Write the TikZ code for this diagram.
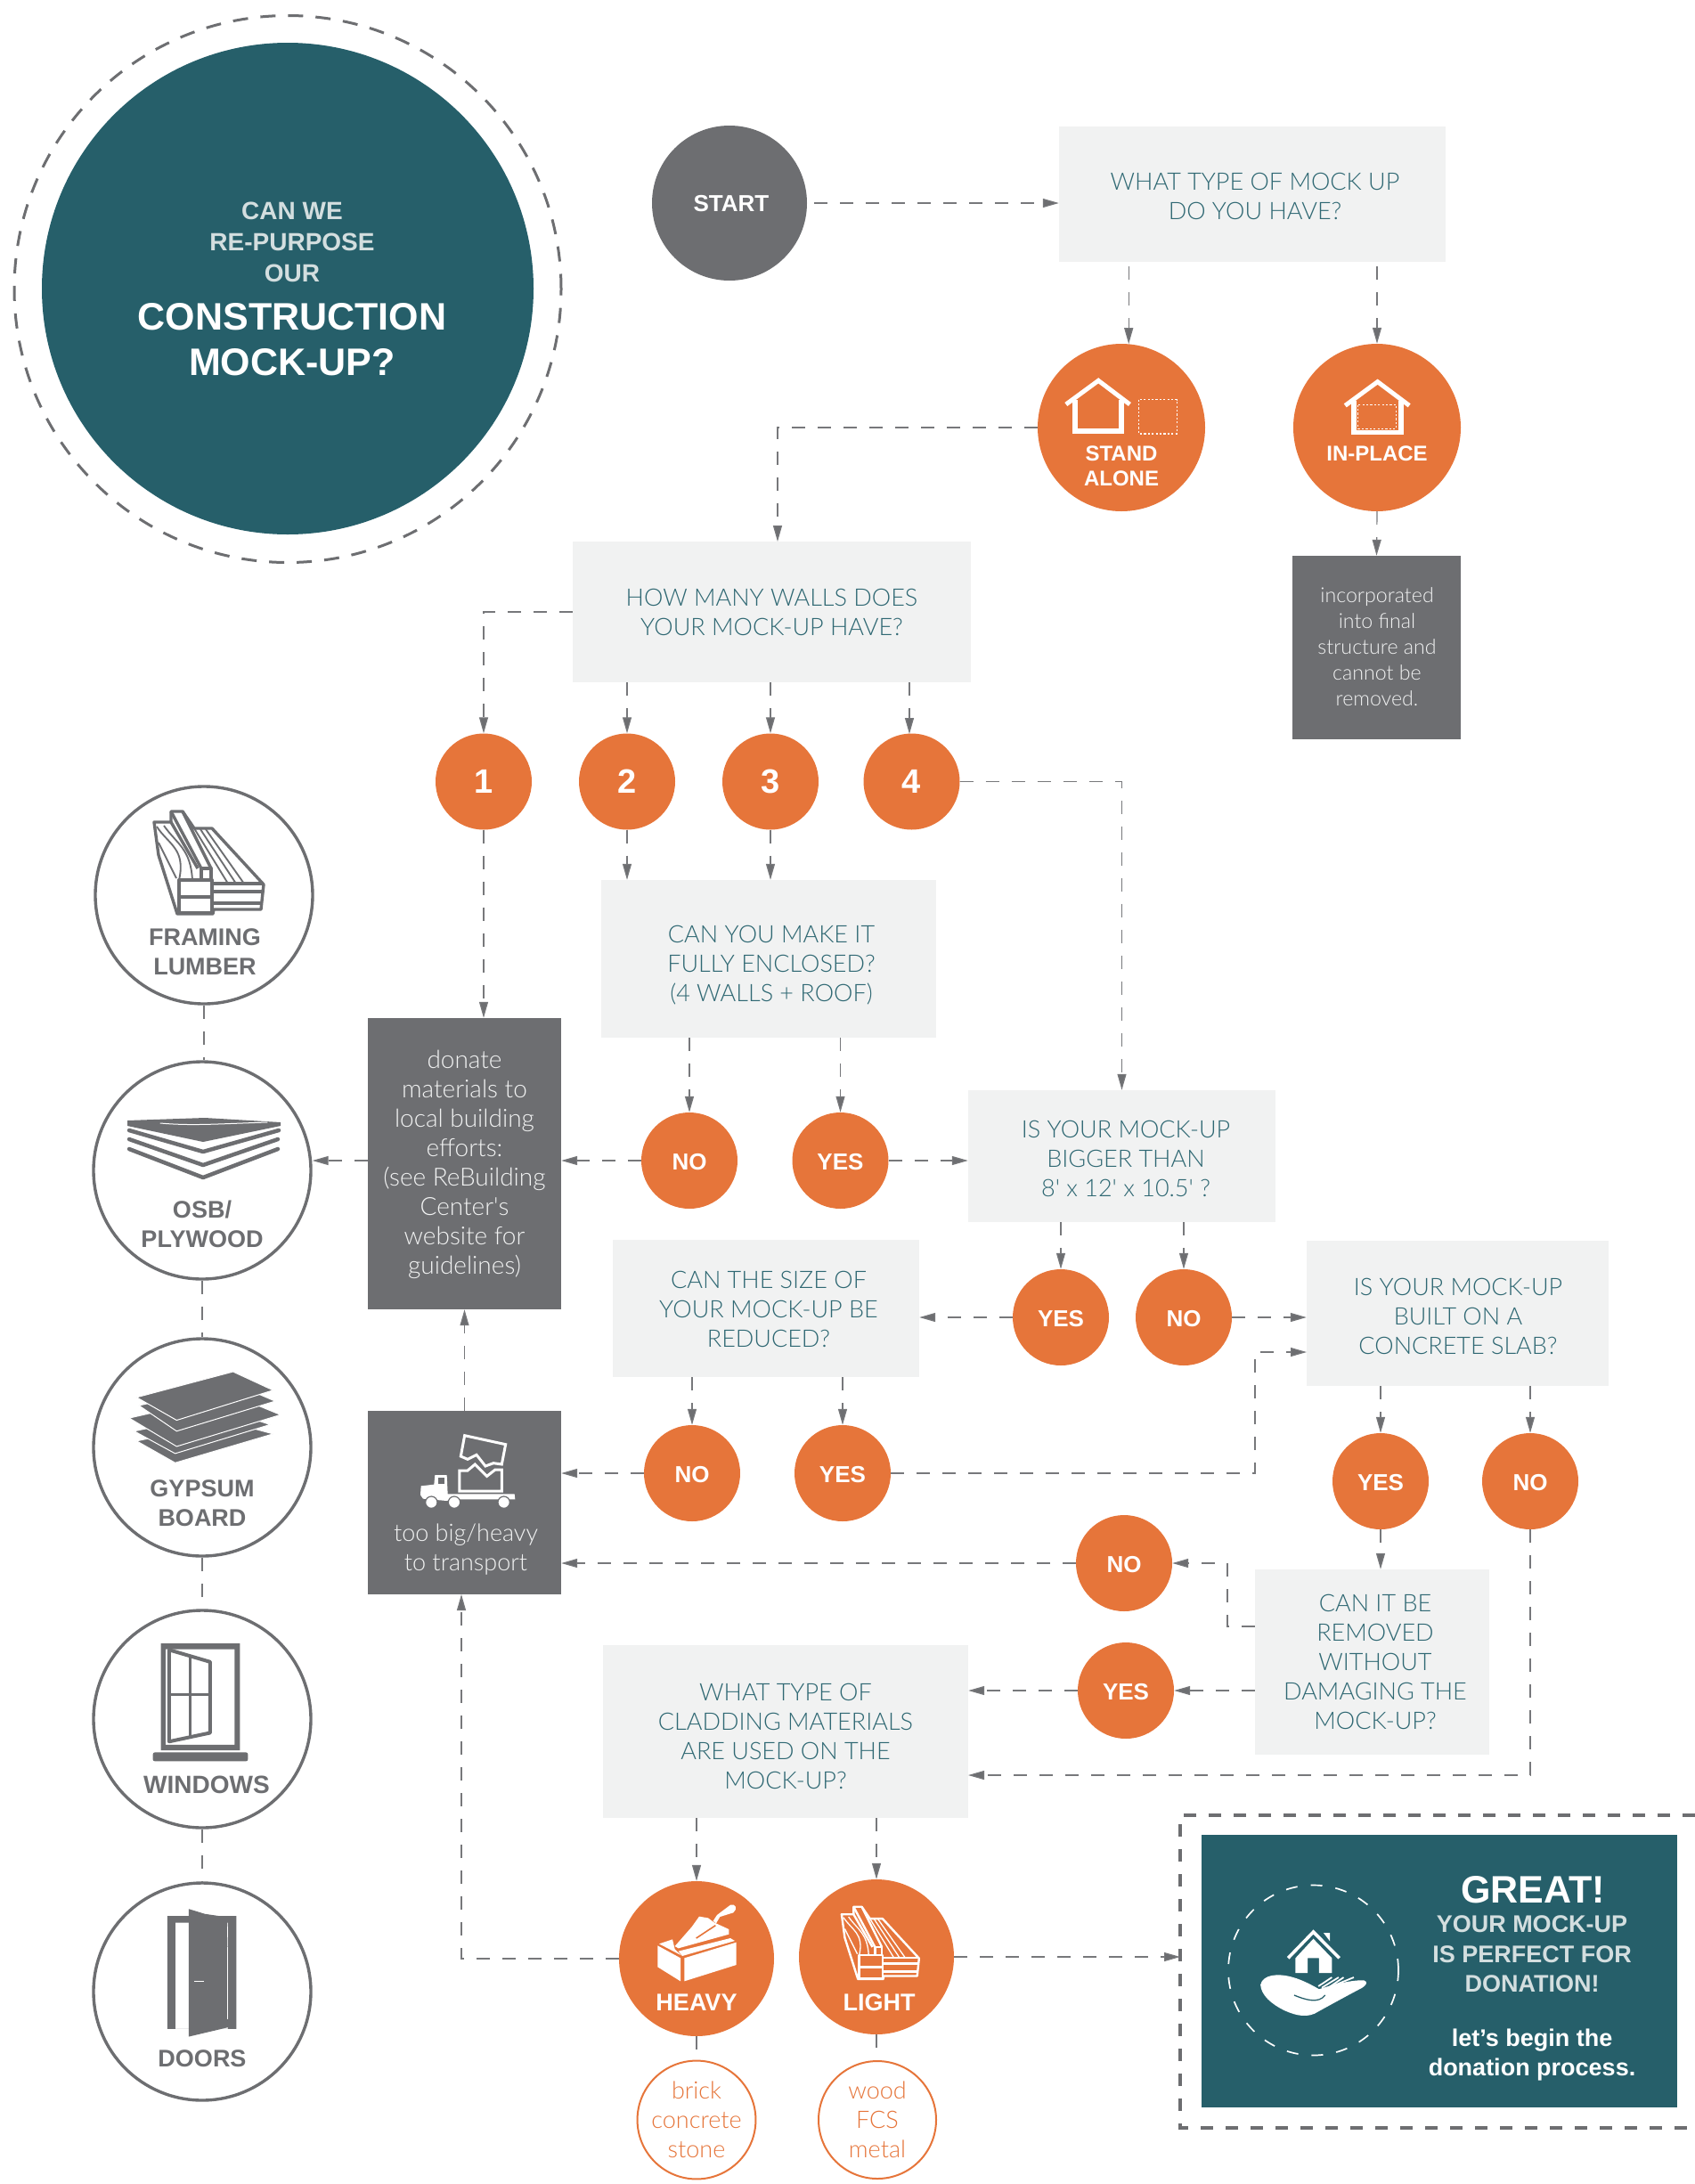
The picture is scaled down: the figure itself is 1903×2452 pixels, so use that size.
\documentclass[tikz,border=0pt]{standalone}
\usepackage{fontspec}
\setmainfont{Liberation Sans}
\newfontfamily\lightf{Lato Light}
\usetikzlibrary{arrows.meta,calc}
\definecolor{teal}{HTML}{265F6A}
\definecolor{qtext}{HTML}{2F6873}
\definecolor{orng}{HTML}{E6753A}
\definecolor{gry}{HTML}{6D6E71}
\definecolor{pale}{HTML}{F1F2F2}
\definecolor{linec}{HTML}{77787B}
\definecolor{softw}{HTML}{D3DEDF}
\newcommand{\lumbericon}[2]{%
 \begin{scope}[line join=round,draw=#1,line width=#2]
 \draw (-61,-45)--(-42,-45)--(-42,-57)--(-29,-57)--(-16,-38)--(4,-38)--(62,25)--(59,53)--(6,53)--(5,58)--(-35,58)--(-56,-8)--cycle;
 \draw (-33,20) rectangle (4,57);
 \draw (-33,39)--(4,39);
 \draw (-8,19)--(-8,7)--(3,7)--(3,19);
 \draw (-42,-57)--(-8,7);
 \draw (-29,-57)--(3,7);
 \draw (-42,-45)--(-12,7);
 \draw (4,24)--(61,24);
 \draw (5,33)--(60,33);
 \draw (5,46)--(60,46);
 \draw[line width=0.55*#2] (-16,-38)--(22,24);
 \draw[line width=0.55*#2] (-9,-37)--(31,24);
 \draw[line width=0.55*#2] (-3,-37)--(40,24);
 \draw[line width=0.55*#2] (-58,-40)..controls (-45,-20) and (-25,-15)..(-33,20);
 \draw[line width=0.55*#2] (-56,-22)--(-36,18);
 \draw[line width=0.55*#2] (-50,-41)..controls (-35,-20) and (-20,-15)..(-18,20);
 \end{scope}}
\tikzset{
 x=1pt,y=-1pt,
 conn/.style={draw=linec,line width=1.2pt,dash pattern=on 15pt off 14pt},
 arr/.style={conn,-{Triangle[length=18pt,width=10pt,fill=gry]}},
 qbox/.style={rectangle,fill=pale,inner sep=0pt},
 qtxt/.style={inner sep=0pt,align=center,text=qtext,font=\lightf\fontsize{27}{33}\selectfont},
 gbox/.style={rectangle,fill=gry,inner sep=0pt},
 gtxt/.style={inner sep=0pt,align=center,text=pale,font=\lightf\fontsize{28}{33}\selectfont},
 ocirc/.style={circle,fill=orng,inner sep=0pt,minimum size=108pt,text=white,text height=20.5pt,text depth=0pt,font=\bfseries\fontsize{26}{31}\selectfont},
 digitc/.style={ocirc,text height=25pt,font=\bfseries\fontsize{38}{40}\selectfont},
 bigo/.style={circle,fill=orng,inner sep=0pt,minimum size=188pt},
 hugeo/.style={circle,fill=orng,inner sep=0pt,minimum size=174pt},
 matc/.style={circle,draw=gry,line width=3.4pt,fill=white,inner sep=0pt,minimum size=244pt},
 matl/.style={inner sep=0pt,align=center,text=gry,font=\bfseries\fontsize{27}{33}\selectfont},
 wlab/.style={inner sep=0pt,align=center,text=white,font=\bfseries\fontsize{24}{28}\selectfont},
 ring/.style={circle,draw=orng,line width=2pt,fill=white,inner sep=0pt,minimum size=132pt,align=center,text=orng,font=\lightf\fontsize{27}{33}\selectfont},
 dotl/.style={draw=white,line width=1.3pt,dash pattern=on 2.2pt off 2.2pt},
}
\begin{document}
\begin{tikzpicture}
\useasboundingbox (0,0) rectangle (1903,2452);
% title
\draw[gry,line width=3pt,dash pattern=on 17pt off 14pt] (323,324.5) circle[radius=307pt];
\node[circle,fill=teal,inner sep=0pt,minimum size=552pt] (title) at (323,324) {};
\node[inner sep=0pt,align=center,text=softw,font=\bfseries\fontsize{28}{35}\selectfont] (titlea) at (328,271.5) {CAN WE\\RE-PURPOSE\\OUR};
\node[inner sep=0pt,align=center,text=white,font=\bfseries\fontsize{43}{51}\selectfont] (titleb) at (328,381) {CONSTRUCTION\\MOCK-UP?};
% start and first question
\node[circle,fill=gry,inner sep=0pt,minimum size=174pt] (start) at (819,228) {};
\node[inner sep=0pt,text=white,font=\bfseries\fontsize{26}{30}\selectfont] (starttxt) at (821,229) {START};
\node[qbox,minimum width=434pt,minimum height=152pt] (q1) at (1406,218) {};
\node[qtxt] (q1t) at (1409,220) {WHAT TYPE OF MOCK UP\\DO YOU HAVE?};
\node[bigo] (sa) at (1259,480) {};
\node[bigo] (ip) at (1546,480) {};
\node[wlab] (satxt) at (1259,523) {STAND\\ALONE};
\node[wlab] (iptxt) at (1546,509) {IN-PLACE};
\node[gbox,minimum width=189pt,minimum height=206pt] (incorp) at (1545.5,727) {};
\node[gtxt,font=\lightf\fontsize{23.2}{29}\selectfont] (incorpt) at (1546,726) {incorporated\\into final\\structure and\\cannot be\\removed.};
% icons: houses
\begin{scope}[shift={(1100,350)},x=0.3827pt,y=-0.3333pt,line join=miter]
 \draw[white,line width=5pt] (253,312)--(348,232)--(440,312);
 \draw[white,line width=5.5pt] (280,298)--(280,402)--(416,402)--(416,298);
 \draw[dotl] (467,296) rectangle (578,411);
 \draw[white,line width=5pt] (1072,316)--(1167,236)--(1260,316);
 \draw[white,line width=5.5pt] (1098,300)--(1098,407)--(1236,407)--(1236,300);
 \draw[dotl] (1110,314) rectangle (1222,394);
\end{scope}
% walls
\node[qbox,minimum width=447pt,minimum height=158pt] (q2) at (866.5,687) {};
\node[qtxt] (q2t) at (866.5,687) {HOW MANY WALLS DOES\\YOUR MOCK-UP HAVE?};
\node[digitc] (n1) at (543,877.5) {1};
\node[digitc] (n2) at (704,877.5) {2};
\node[digitc] (n3) at (865,877.5) {3};
\node[digitc] (n4) at (1023.5,877.5) {4};
\node[qbox,minimum width=376pt,minimum height=177pt] (q3) at (863,1076.5) {};
\node[qtxt] (q3t) at (866,1084) {CAN YOU MAKE IT\\FULLY ENCLOSED?\\(4 WALLS + ROOF)};
\node[ocirc] (no1) at (774,1303) {NO};
\node[ocirc] (yes1) at (943.5,1303) {YES};
\node[gbox,minimum width=217pt,minimum height=327pt] (donate) at (521.5,1306.5) {};
\node[gtxt] (donatet) at (521.5,1307) {donate\\materials to\\local building\\efforts:\\(see ReBuilding\\Center's\\website for\\guidelines)};
\node[qbox,minimum width=345pt,minimum height=148pt] (q4) at (1259.5,1298) {};
\node[qtxt] (q4t) at (1264,1301) {IS YOUR MOCK-UP\\BIGGER THAN\\8' x 12' x 10.5' ?};
\node[ocirc] (yes2) at (1191,1479) {YES};
\node[ocirc] (no2) at (1329,1479) {NO};
\node[qbox,minimum width=344pt,minimum height=154pt] (q5) at (860,1469) {};
\node[qtxt] (q5t) at (863,1470) {CAN THE SIZE OF\\YOUR MOCK-UP BE\\REDUCED?};
\node[qbox,minimum width=339pt,minimum height=163pt] (q6) at (1636.5,1474.5) {};
\node[qtxt] (q6t) at (1637,1478) {IS YOUR MOCK-UP\\BUILT ON A\\CONCRETE SLAB?};
\node[ocirc] (no3) at (777,1654) {NO};
\node[ocirc] (yes3) at (946,1654) {YES};
\node[ocirc] (yes4) at (1550,1663) {YES};
\node[ocirc] (no4) at (1718,1663) {NO};
\node[gbox,minimum width=217pt,minimum height=206pt] (big) at (521.5,1687) {};
\node[gtxt,font=\lightf\fontsize{27}{33}\selectfont] (bigtxt) at (523,1740) {too big/heavy\\to transport};
\node[ocirc] (no5) at (1262,1755) {NO};
\node[ocirc] (yes5) at (1264,1898) {YES};
\node[qbox,minimum width=263pt,minimum height=208pt] (q7) at (1540.5,1866) {};
\node[qtxt] (q7t) at (1544,1866) {CAN IT BE\\REMOVED\\WITHOUT\\DAMAGING THE\\MOCK-UP?};
\node[qbox,minimum width=410pt,minimum height=194pt] (q8) at (882,1944) {};
\node[qtxt] (q8t) at (882,1949) {WHAT TYPE OF\\CLADDING MATERIALS\\ARE USED ON THE\\MOCK-UP?};
\node[hugeo] (heavy) at (782,2199) {};
\node[hugeo] (light) at (984,2197) {};
\node[wlab,font=\bfseries\fontsize{27}{28}\selectfont] (heavytxt) at (782,2248) {HEAVY};
\node[wlab,font=\bfseries\fontsize{27}{28}\selectfont] (lighttxt) at (987,2248) {LIGHT};
\node[ring] (brick) at (782,2380) {brick\\concrete\\stone};
\node[ring] (wood) at (985,2380) {wood\\FCS\\metal};
% truck icon
\begin{scope}[shift={(400,1570)},x=0.3333pt,y=-0.3333pt,line join=miter]
 \draw[white,line width=3pt] (365,125)--(503,155)--(490,222)--(462,218)--(435,228)--(405,190)--(375,205)--(352,195)--cycle;
 \draw[white,line width=3pt] (348,243)--(375,243)--(400,222)--(440,262)--(468,240)--(490,240)--(490,312)--(348,312)--cycle;
 \fill[white] (218,295)--(262,290)--(265,258)--(305,258)--(308,322)--(533,322)--(535,340)--(320,340)--(305,345)--(225,338)--(216,325)--cycle;
 \fill[gry] (275,268) rectangle (298,288);
 \fill[white,draw=gry,line width=1.2pt] (253,350) circle[radius=20];
 \fill[white,draw=gry,line width=1.2pt] (330,350) circle[radius=20];
 \fill[white,draw=gry,line width=1.2pt] (497,350) circle[radius=20];
\end{scope}
% heavy icon
\begin{scope}[shift={(680,2090)},x=0.3333pt,y=-0.3333pt]
 \fill[white] (175,283)--(252,325)--(252,403)--(175,355)--cycle;
 \fill[white] (265,325)--(440,272)--(440,348)--(265,403)--cycle;
 \fill[white] (180,277)--(225,262)--(233,295)--(255,316)--cycle;
 \fill[white] (245,302)--(420,258)--(435,267)--(258,318)--cycle;
 \fill[white] (315,185)--(345,190)--(365,205)--(415,228)--(415,245)--(245,292)--(233,285)--(290,220)--cycle;
 \fill[white] (362,200)--(375,180)--(420,146)..controls (438,140) and (445,160)..(430,172)--(385,186)--(372,208)--cycle;
 \draw[orng,line width=1.6pt] (305,258)--(370,215);
\end{scope}
% light icon
\begin{scope}[shift={(988,2181)},scale=0.707]
 \lumbericon{white}{2.4pt}
\end{scope}
% materials
\node[matc] (framing) at (229,1005) {};
\node[matc] (osb) at (227,1314) {};
\node[matc] (gypsum) at (227,1625) {};
\node[matc] (windows) at (227,1930) {};
\node[matc] (doors) at (227,2236) {};
\node[matl] (framingtxt) at (230,1069) {FRAMING\\LUMBER};
\node[matl] (osbtxt) at (227,1374.5) {OSB/\\PLYWOOD};
\node[matl] (gypsumtxt) at (227,1688) {GYPSUM\\BOARD};
\node[matl,font=\bfseries\fontsize{28}{33}\selectfont] (windowstxt) at (232,2004) {WINDOWS};
\node[matl] (doorstxt) at (227,2311) {DOORS};
\begin{scope}[shift={(234,968)}]
 \lumbericon{gry}{3.4pt}
\end{scope}
% osb icon
\begin{scope}[line join=round,line cap=round]
 \draw[gry,line width=4.5pt] (145,1290)--(228,1322)--(312,1290);
 \draw[gry,line width=4.5pt] (145,1279)--(228,1308)--(312,1279);
 \draw[gry,line width=4.5pt] (145,1269)--(228,1293)--(313,1269);
 \fill[gry] (143,1258)--(230,1255)--(315,1260)--(315,1264)--(228,1282)--(143,1264)--cycle;
 \draw[white,line width=1pt] (180,1261)..controls (215,1264) and (240,1262)..(300,1260);
\end{scope}
% gypsum icon
\begin{scope}[shift={(90,1480)},x=0.3333pt,y=-0.6124pt,line join=round]
 \filldraw[fill=gry,draw=white,line width=1pt] (190,225)--(500,190)--(650,212)--(320,265)--cycle;
 \filldraw[fill=gry,draw=white,line width=1pt] (182,207)--(500,170)--(640,195)--(320,248)--cycle;
 \filldraw[fill=gry,draw=white,line width=1pt] (165,183)--(510,140)--(675,177)--(325,235)--cycle;
 \filldraw[fill=gry,draw=white,line width=1pt] (198,160)--(520,120)--(657,152)--(325,207)--cycle;
 \filldraw[fill=gry,draw=white,line width=1pt] (190,145)--(515,98)--(650,132)--(325,187)--cycle;
 % windows
 \fill[gry,even odd rule] (272,596) rectangle (538,792) (288,607) rectangle (520,782);
 \fill[gry,rounded corners=2pt] (245,796) rectangle (565,812);
 \draw[gry,line width=4pt] (300,608)--(438,630)--(438,760)--(300,776)--cycle;
 \draw[gry,line width=3.6pt] (304,690)--(436,690);
 \draw[gry,line width=3.6pt] (370,618)--(370,768);
 % door
 \fill[gry,even odd rule] (294,1096)--(526,1096)--(526,1303)--(294,1303)--cycle (321,1108)--(498,1108)--(498,1303)--(321,1303)--cycle;
 \fill[gry] (366,1083)--(420,1092)--(495,1098)--(498,1300)--(366,1317)--cycle;
 \draw[white,line width=1.2pt] (385,1216)--(418,1216);
 \draw[white,line width=1pt] (497,1115)--(497,1135) (497,1152)--(497,1285);
\end{scope}
% great
\node[rectangle,fill=teal,inner sep=0pt,minimum width=534pt,minimum height=306pt] (great) at (1616,2213) {};
\coordinate (dleft) at (1325,2197);
\draw[gry,line width=3.4pt,dash pattern=on 14pt off 14pt] (1903,2038)--(1325,2038)--(1325,2389)--(1903,2389);
\draw[white,line width=1.7pt,dash pattern=on 13pt off 15pt] (1474.5,2212) circle[radius=95.5pt];
\node[inner sep=0pt,text=white,font=\bfseries\fontsize{43}{48}\selectfont] (greatt) at (1721,2122) {GREAT!};
\node[inner sep=0pt,align=center,text=softw,font=\bfseries\fontsize{27}{33.5}\selectfont] (greatm) at (1720,2194) {YOUR MOCK-UP\\IS PERFECT FOR\\DONATION!};
\node[inner sep=0pt,align=center,text=white,font=\bfseries\fontsize{27}{33}\selectfont] (greatb) at (1720,2307) {let’s begin the\\donation process.};
\begin{scope}[shift={(1310,2020)},x=0.3782pt,y=-0.3333pt,line join=miter]
 \draw[white,line width=3.6pt] (360,535)--(435,447)--(512,535);
 \fill[white] (465,450)--(484,450)--(484,478)--cycle;
 \fill[white] (382,535)--(435,470)--(490,535)--(490,585)--(452,585)--(452,535)--(418,535)--(418,585)--(382,585)--cycle;
 \fill[white] (278,625)..controls (285,590) and (330,585)..(375,600)..controls (400,608) and (430,625)..(452,640)..controls (490,625) and (550,608)..(585,610)..controls (600,615) and (590,628)..(580,635)..controls (530,665) and (490,690)..(450,715)..controls (420,738) and (385,730)..(350,712)..controls (310,690) and (280,660)..(278,625)--cycle;
 \draw[teal,line width=1.3pt] (378,660)..controls (410,675) and (450,690)..(470,660);
 \draw[white,line width=1.8pt] (450,630)--(490,600);
 \draw[white,line width=1.8pt] (460,635)--(510,600);
 \draw[white,line width=1.8pt] (475,638)--(525,600);
 \draw[white,line width=1.8pt] (490,630)--(555,600);
\end{scope}
% connectors
\draw[arr,shorten <=8pt] (start.east) -- (start.east -| q1.west);
\draw[arr,shorten <=5pt] (q1.south -| sa.85) -- (sa.85);
\draw[arr,shorten <=5pt] (q1.south -| ip.north) -- (ip.north);
\draw[arr] (ip.south) -- (incorp.north);
\coordinate (q2in) at (873,608);
\draw[arr] (sa.west) -| (q2in);
\draw[arr] (q2.west) -| (n1.north);
\draw[arr] (q2.south -| n2.north) -- (n2.north);
\draw[arr] (q2.south -| n3.north) -- (n3.north);
\coordinate (n4in) at (1021,824);
\draw[arr] (q2.south -| n4in) -- (n4in);
\draw[arr] (n1.south) -- (n1.south |- donate.north);
\draw[arr] (n2.south) -- (n2.south |- q3.north);
\draw[arr] (n3.south) -- (n3.south |- q3.north);
\draw[arr] (n4.east) -| (q4.north);
\draw[arr] (q3.south -| no1.north) -- (no1.north);
\draw[arr] (q3.south -| yes1.north) -- (yes1.north);
\draw[arr] (no1.west) -- (no1.west -| donate.east);
\draw[arr] (no1.west -| donate.west) -- (no1.west -| osb.east);
\draw[arr] (yes1.east) -- (yes1.east -| q4.west);
\draw[arr] (q4.south -| yes2.north) -- (yes2.north);
\draw[arr] (q4.south -| no2.north) -- (no2.north);
\draw[arr] (yes2.west) -- (yes2.west -| q5.east);
\draw[arr] (no2.east) -- (no2.east -| q6.west);
\draw[arr] (q5.south -| no3.north) -- (no3.north);
\draw[arr] (q5.south -| yes3.north) -- (yes3.north);
\draw[arr] (no3.west) -- (no3.west -| big.east);
\coordinate (q6low) at (1467,1518);
\coordinate (q6turn) at (1409,1654);
\draw[arr] (yes3.east) -- (q6turn) |- (q6low);
\draw[arr] (q6.south -| yes4.north) -- (yes4.north);
\draw[arr] (q6.south -| no4.north) -- (no4.north);
\draw[arr] (yes4.south) -- (yes4.south |- q7.north);
\coordinate (q8low) at (1087,1993);
\draw[arr] (no4.south) |- (q8low);
\coordinate (q7up) at (1409,1826);
\coordinate (q7turn) at (1378,1826);
\draw[arr] (q7up) -- (q7turn) |- (no5.east);
\draw[arr] (yes5.east -| q7.west) -- (yes5.east);
\draw[arr] (no5.west) -- (no5.west -| big.east);
\draw[arr] (yes5.west) -- (yes5.west -| q8.east);
\draw[arr] (q8.south -| heavy.north) -- (heavy.north);
\draw[arr] (q8.south -| light.north) -- (light.north);
\coordinate (bigin) at (518,1790);
\draw[arr] (heavy.west) -| (bigin);
\draw[arr] (big.north) -- (donate.south);
\draw[arr] (light.east) -- (dleft);
\draw[conn] (heavy.south) -- (brick.north);
\draw[conn] (light.south) -- (light.south |- wood.north);
\draw[conn] (framing.south) -- (framing.south |- osb.north);
\draw[conn] (osb.south) -- (gypsum.north);
\draw[conn] (gypsum.south) -- (windows.north);
\draw[conn] (windows.south) -- (doors.north);
\end{tikzpicture}
\end{document}
